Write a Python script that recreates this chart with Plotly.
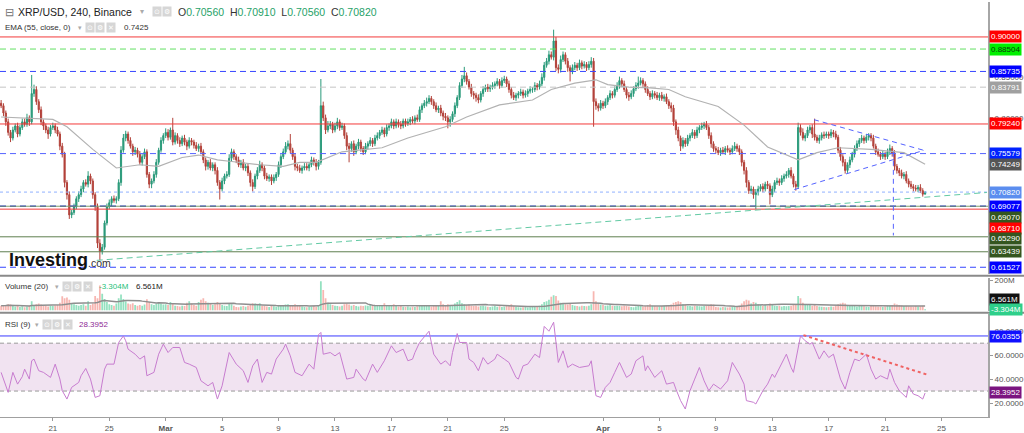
import pandas as pd
import plotly.graph_objects as go

# ---------------- data ----------------
start_time = "2022-02-17 08:00"
first_open = 0.8180

closes = [
 0.815,0.806,0.795,0.782,
 0.775,0.785,0.790,0.780,0.788,0.795,
 0.792,0.800,0.795,0.830,0.835,0.820,
 0.810,0.795,0.790,0.785,0.780,0.788,
 0.790,0.785,0.780,0.765,0.755,0.720,
 0.705,0.680,0.683,0.690,0.700,0.705,
 0.712,0.720,0.718,0.728,0.722,0.705,
 0.690,0.645,0.635,0.640,0.670,0.690,
 0.695,0.700,0.698,0.700,0.720,0.760,
 0.775,0.780,0.772,0.765,0.758,0.760,
 0.755,0.745,0.752,0.758,0.730,0.718,
 0.722,0.730,0.745,0.760,0.772,0.778,
 0.782,0.776,0.785,0.770,0.778,0.772,
 0.768,0.775,0.770,0.765,0.772,0.770,
 0.766,0.762,0.765,0.758,0.748,0.740,
 0.745,0.738,0.742,0.735,0.720,0.712,
 0.722,0.728,0.730,0.750,0.758,0.752,
 0.748,0.742,0.745,0.738,0.740,0.732,
 0.720,0.715,0.728,0.735,0.742,0.738,
 0.728,0.725,0.727,0.722,0.726,0.730,
 0.742,0.752,0.758,0.765,0.768,0.760,
 0.752,0.740,0.738,0.735,0.738,0.740,
 0.738,0.742,0.748,0.745,0.740,0.745,
 0.815,0.800,0.785,0.790,0.792,0.785,
 0.790,0.795,0.788,0.790,0.778,0.765,
 0.762,0.768,0.758,0.765,0.770,0.762,
 0.758,0.765,0.768,0.772,0.768,0.775,
 0.778,0.782,0.785,0.780,0.788,0.790,
 0.795,0.790,0.795,0.792,0.790,0.796,
 0.793,0.795,0.798,0.796,0.800,0.798,
 0.810,0.815,0.818,0.820,0.824,0.820,
 0.815,0.810,0.812,0.806,0.802,0.800,
 0.795,0.798,0.805,0.815,0.825,0.840,
 0.848,0.852,0.845,0.838,0.830,0.828,
 0.825,0.822,0.830,0.835,0.838,0.836,
 0.838,0.840,0.842,0.845,0.840,0.846,
 0.848,0.842,0.835,0.828,0.825,0.828,
 0.830,0.832,0.828,0.830,0.833,0.835,
 0.835,0.840,0.838,0.842,0.850,0.865,
 0.870,0.878,0.875,0.895,0.862,0.860,
 0.872,0.878,0.870,0.862,0.858,0.862,
 0.865,0.862,0.868,0.864,0.866,0.862,
 0.866,0.870,0.820,0.815,0.812,0.818,
 0.815,0.820,0.825,0.830,0.828,0.835,
 0.840,0.846,0.842,0.835,0.828,0.826,
 0.830,0.836,0.840,0.843,0.846,0.842,
 0.835,0.830,0.826,0.830,0.828,0.825,
 0.828,0.824,0.826,0.820,0.815,0.812,
 0.795,0.785,0.775,0.765,0.772,0.768,
 0.775,0.778,0.782,0.778,0.785,0.788,
 0.790,0.792,0.788,0.778,0.768,0.762,
 0.760,0.757,0.760,0.758,0.762,0.760,
 0.758,0.762,0.765,0.762,0.758,0.745,
 0.735,0.720,0.710,0.712,0.705,0.708,
 0.712,0.715,0.712,0.718,0.716,0.705,
 0.712,0.720,0.722,0.720,0.725,0.728,
 0.730,0.735,0.728,0.718,0.715,0.788,
 0.782,0.775,0.778,0.785,0.788,0.780,
 0.776,0.772,0.775,0.779,0.778,0.780,
 0.778,0.782,0.780,0.776,0.760,0.752,
 0.745,0.735,0.742,0.748,0.755,0.762,
 0.768,0.772,0.775,0.772,0.776,0.778,
 0.775,0.765,0.758,0.755,0.752,0.755,
 0.752,0.758,0.762,0.756,0.740,0.735,
 0.732,0.728,0.730,0.722,0.718,0.715,
 0.713,0.712,0.714,0.710,0.7056,0.7082,
]

# upper / lower wick lengths, in thousandths of a dollar
up_wick = [
 4,3,3,4, 3,4,3,4,3,4, 4,5,3,23,6,4, 3,4,3,3,4,3, 4,3,4,3,4,3,
 3,4,3,4,3,4, 4,3,4,6,3,3, 3,4,5,4,3,4, 4,3,4,3,4,5, 5,4,3,4,3,4,
 3,4,3,4,3,3, 3,4,4,3,4,3, 5,4,3,15,4,3, 4,3,4,3,4,3, 3,4,3,4,3,3,
 3,4,3,3,4,3, 4,3,4,5,4,3, 3,4,3,4,3,4, 3,4,3,4,5,3, 3,4,3,3,4,3,
 4,3,4,5,4,12, 3,4,3,4,3,4, 4,3,4,3,4,3, 33,5,4,6,4,3, 4,5,3,4,3,4,
 4,3,4,3,4,3, 3,4,3,4,3,4, 4,3,4,3,4,3, 4,3,4,3,4,3, 3,4,3,4,3,4,
 4,3,4,5,4,3, 3,4,3,4,3,4, 3,4,3,4,3,4, 5,11,4,3,4,3, 3,4,3,4,3,4,
 3,4,3,4,3,4, 4,3,4,3,4,3, 3,4,3,4,3,4, 3,4,3,4,5,4, 4,5,4,14,5,4,
 5,4,3,4,3,4, 4,3,4,3,4,3, 4,5,4,4,3,4, 3,4,3,4,3,4, 4,5,3,4,3,4,
 4,3,4,8,4,3, 3,4,3,4,3,4, 3,4,3,4,3,4, 4,3,4,3,4,3, 4,3,4,3,4,3,
 4,3,4,3,4,3, 3,4,3,4,3,4, 3,4,5,3,4,3, 3,4,3,4,3,4, 4,3,4,3,4,3,
 4,3,4,3,4,3, 4,3,4,3,4,6, 4,5,3,4,3,4, 19,3,4,3,4,3, 3,4,3,4,3,4,
 3,4,3,4,3,4, 4,3,4,3,4,3, 3,4,3,4,3,4, 3,4,5,3,4,3, 3,4,3,4,3,4,
 3,4,3,4,3,0.9,
]
dn_wick = [
 3,4,5,4, 5,3,3,4,3,3, 3,3,5,3,4,4, 4,4,5,4,6,3, 3,4,3,5,4,6,
 6,5,4,3,3,4, 3,4,3,4,4,5, 5,6,11,4,3,3, 3,4,3,4,3,4, 3,4,4,3,5,4,
 4,3,4,3,4,5, 5,3,4,3,3,4, 3,4,3,4,3,4, 4,3,4,5,3,4, 4,3,4,3,4,5,
 4,3,4,5,4,13, 3,4,3,3,4,4, 4,3,4,3,4,4, 5,6,3,4,3,4, 4,3,4,5,3,4,
 3,4,3,3,4,4, 4,5,4,3,4,3, 3,4,3,4,5,4, 3,4,5,3,4,4, 3,4,4,3,4,5,
 17,4,5,3,4,4, 4,3,4,3,4,3, 3,4,3,4,3,4, 3,4,3,4,4,3, 4,3,4,3,4,3,
 3,4,3,4,3,4, 4,3,4,4,5,4, 8,6,3,4,3,3, 3,4,4,3,4,5, 5,4,3,4,3,4,
 4,3,4,3,4,3, 3,4,4,4,3,4, 4,3,4,3,4,3, 4,3,4,3,3,4, 3,4,3,4,4,5,
 4,3,4,5,13,4, 3,4,3,4,3,4, 3,4,31,5,4,3, 4,3,4,3,4,3, 3,4,4,3,4,5,
 3,4,3,4,3,4, 4,3,4,3,4,3, 4,3,4,3,4,5, 5,6,4,6,3,4, 3,4,3,4,3,4,
 3,4,3,4,5,4, 4,3,4,3,4,3, 4,3,3,4,4,5, 5,6,4,4,5,18, 4,3,4,3,4,12,
 3,4,3,4,3,4, 3,4,3,4,5,3, 4,3,4,3,4,5, 4,3,4,3,4,3, 4,3,4,3,4,5,
 5,4,3,4,3,4, 3,4,3,4,3,4, 4,3,4,3,4,3, 4,3,4,4,5,4, 4,3,4,3,4,3,
 4,3,4,3,3,0,
]

# volume per candle, millions
volume_m = [
 30,28,35,40,
 38,30,25,28,22,26, 20,25,30,60,35,40, 45,38,30,28,25,30, 28,32,35,50,93,80,
 85,70,45,40,35,30, 35,40,30,60,35,45, 95,80,165,110,75,55, 40,35,30,45,80,105,
 75,60,45,40,47,35, 30,35,30,38,73,55, 40,35,45,50,45,38, 40,35,55,45,30,28,
 25,30,28,50,60,45, 35,30,55,70,80,60, 50,45,35,40,55,48, 35,30,28,47,40,30,
 22,20,25,28,24,30, 40,47,45,38,47,30, 28,25,22,30,26,24, 35,32,30,38,40,30,
 35,40,30,28,25,22, 20,22,25,28,24,30, 193,135,80,50,40,35, 30,28,25,30,40,45,
 38,30,35,28,25,30, 28,32,30,35,28,30, 35,30,28,47,35,30, 28,40,30,25,28,24,
 22,25,20,24,22,26, 35,30,28,32,30,25, 28,30,35,60,40,35, 40,35,30,45,55,67,
 47,40,35,38,30,28, 30,25,28,30,26,24, 22,25,28,24,26,22, 25,30,35,40,28,24,
 20,18,20,22,18,20, 22,25,24,30,40,55, 60,70,90,100,95,65, 50,45,40,38,45,35,
 30,28,25,30,28,26, 30,40,127,60,45,38, 35,30,32,38,30,28, 30,28,26,30,28,25,
 22,20,25,28,30,25, 28,35,40,30,28,25, 25,28,30,35,32,38, 50,55,60,55,40,35,
 30,28,25,30,28,26, 25,28,30,35,40,38, 22,20,18,22,20,18, 20,22,25,24,30,45,
 60,70,65,45,55,50, 40,35,30,35,30,45, 35,30,28,30,25,28, 26,28,30,35,40,95,
 80,50,40,35,38,30, 40,28,25,24,22,20, 22,25,24,30,40,45, 50,45,35,30,32,28,
 25,28,30,26,24,22, 28,30,26,25,24,22, 25,28,30,35,45,38, 35,32,28,30,26,25,
 24,28,25,26,30,6.561,
]

# EMA(55) (candle index, value)
ema_idx = [0, 22, 28, 39, 49, 59, 67, 77, 84, 92, 98, 110, 120, 127, 134, 145, 162, 173,
           189, 198, 212, 226, 234, 244, 253, 258, 267, 276, 284, 291, 305, 316, 326,
           339, 347, 356, 370, 384, 393]
ema_val = [0.801, 0.798, 0.789, 0.761, 0.738, 0.742, 0.740, 0.751, 0.754, 0.748, 0.746,
           0.742, 0.740, 0.745, 0.745, 0.758, 0.763, 0.775, 0.789, 0.801, 0.816, 0.822,
           0.835, 0.843, 0.847, 0.841, 0.838, 0.837, 0.835, 0.826, 0.814, 0.791, 0.764,
           0.748, 0.757, 0.763, 0.761, 0.757, 0.7425]

# RSI(9) (candle index, value)
rsi_idx = [0,3,5,7,9,10,12,13,14,16,18,21,23,25,26,28,30,33,34,36,38,40,42,44,45,48,50,52,53,54,
           57,59,61,62,65,67,69,71,73,76,78,80,83,85,88,90,92,94,97,100,103,105,107,109,111,113,
           115,117,120,121,123,125,128,131,133,135,136,137,140,142,144,147,150,151,154,155,158,
           160,163,166,168,171,173,175,176,178,182,183,184,187,189,191,192,194,195,198,199,201,
           203,205,207,210,211,214,216,219,220,222,224,227,229,231,233,235,237,239,241,243,246,
           250,251,253,255,257,259,261,263,266,268,270,273,274,275,278,281,283,286,287,289,291,
           293,295,297,299,301,303,306,309,311,314,316,317,320,321,324,326,328,329,332,334,336,
           337,340,342,344,345,348,350,352,354,357,359,361,363,365,368,370,372,374,377,378,380,
           382,385,386,388,390,392,393]
rsi_val = [45.6,28.9,45.6,35.8,42,48.3,40,55.3,56.7,47,45.6,41.4,52.5,40,30.3,23.3,33.1,37.2,42.8,
           48.9,40,24.7,26.1,48.3,52.5,52.5,70.6,76,72,65,60.8,56.7,59.4,42.8,45.6,60.8,69.2,62.2,
           66.4,66.4,53.9,52.5,49.7,38.6,34.4,37.2,23.3,34.4,62.2,52.5,47,37.2,51.1,56.7,37.2,45.6,
           44.2,56.7,65,69.2,59.4,45.6,42.8,52.5,48.3,77,79,60.8,62.2,59.4,62.2,40,41.4,48.3,40,
           38.6,52.5,45.6,55.3,67.8,62.2,65,55.3,56.7,62.2,70.6,80,70.6,60.8,52.5,55.3,51.1,62.2,
           78,70.6,70.6,56.7,53.9,47,58,52.5,56.7,60.8,56.7,53.9,41.4,40,51.1,52.5,60.8,58,84,80,
           87.5,53.9,63.6,49.7,52.5,49.7,51.1,55.3,26.1,24.7,33.1,37.2,45.6,53.9,41.4,44.2,55.3,
           59.4,47,51.1,41.4,47,35.8,37.2,31.7,22,15,30.3,40,49.7,38.6,30.3,35.8,31.7,38.6,53.9,
           44.2,35.8,22,20.6,19.2,30.3,35.8,44.2,41.4,53.9,60.8,49.7,45.6,76.04,72,69.2,70.6,56.7,
           63.6,58,60.8,40,31.7,45.6,56.7,55.3,60.8,48.3,40,42.8,40,48.3,37.2,30.3,24.7,34.4,27.5,
           26.1,23.3,28.3952]

# price levels drawn on the chart: value, line colour, dash, label colour, label text colour
levels = [0.90000, 0.88504, 0.85735, 0.83791, 0.79240, 0.75579, 0.70820,
          0.69077, 0.69070, 0.68710, 0.65290, 0.63439, 0.61527]
level_line = ['#f33a3a', '#62e062', '#3545ff', '#c4c4c4', '#f33a3a', '#5563ff', '#8fb0ff',
              '#1a2ae0', '#7d9a6c', '#f33a3a', '#5f7f4f', '#5f7f4f', '#3545ff']
level_dash = ['solid', '6px,4px', '6px,4px', '6px,4px', 'solid', '6px,4px', 'dot',
              '6px,4px', 'solid', 'solid', 'solid', 'solid', '6px,4px']
level_label_bg = ['#ff0000', '#00f000', '#0000ff', '#a0a0a0', '#ff0000', '#0022ff', '#5b8def',
                  '#0000ff', '#34561f', '#ff0000', '#34561f', '#34561f', '#0000ff']
level_label_fc = ['white', '#0a3a0a', 'white', 'white', 'white', 'white', 'white',
                  'white', 'white', 'white', 'white', 'white', 'white']
level_label_shift = [0, 0, 0, 0, 0, 0, 0, 0, -11.5, -19.5, -2, 0, 0]
ema_label_value = 0.74249

# analyst drawings
support_t = ["2022-02-24 02:40", "2022-04-28 05:00"]
support_p = [0.6238, 0.7077]
tri_up_t = ["2022-04-15 23:00", "2022-04-23 18:00"]
tri_up_p = [0.7977, 0.7598]
tri_lo_t = ["2022-04-14 13:30", "2022-04-23 18:00"]
tri_lo_p = [0.7113, 0.7598]
vline_t = ["2022-04-21 14:00", "2022-04-21 14:00"]
vline_p = [0.758, 0.6546]
rsi_tl_t = ["2022-04-15 05:00", "2022-04-24 02:00"]
rsi_tl_v = [76.7, 43.3]
rsi_level = 76.0355

# axes
x_range = ['2022-02-17 06:06', '2022-04-28 07:00']
price_ticks = [0.80, 0.85]
rsi_ticks = [20, 40, 60, 80]
tick_dates = ["2022-02-21", "2022-02-25", "2022-03-01", "2022-03-05", "2022-03-09", "2022-03-13",
              "2022-03-17", "2022-03-21", "2022-03-25", "2022-04-01", "2022-04-05", "2022-04-09",
              "2022-04-13", "2022-04-17", "2022-04-21", "2022-04-25"]
tick_text = ["21", "25", "<b>Mar</b>", "5", "9", "13", "17", "21", "25", "<b>Apr</b>",
             "5", "9", "13", "17", "21", "25"]

# ---------------- build ----------------
n = len(closes)
t0 = pd.Timestamp(start_time)
step = pd.Timedelta(hours=4)
times = [t0 + i * step for i in range(n)]
opens = [first_open] + closes[:-1]
highs = [max(o, c) + u / 1000 for o, c, u in zip(opens, closes, up_wick)]
lows = [min(o, c) - d / 1000 for o, c, d in zip(opens, closes, dn_wick)]
volume = [v * 1e6 for v in volume_m]
vol_ma = pd.Series(volume).rolling(20, min_periods=1).mean()
vol_colors = ['rgba(60,200,140,0.55)' if c >= o else 'rgba(240,110,100,0.5)'
              for o, c in zip(opens, closes)]
ema_t = [t0 + i * step for i in ema_idx]
rsi_t = [t0 + i * step for i in rsi_idx]
x_span = pd.to_datetime(x_range)

W = 991.0
TOP, BOT = 2.0, 418.0
H = BOT - TOP


def px(x):
    return x / W


def py(y):
    return (BOT - y) / H


fig = go.Figure()


def line_trace(xs, ys, yaxis, color, width=1, dash='solid'):
    fig.add_trace(go.Scatter(x=xs, y=ys, mode='lines', xaxis='x', yaxis=yaxis,
                             line=dict(color=color, width=width, dash=dash),
                             hoverinfo='skip', showlegend=False))


# horizontal price levels (under the candles)
for v, c, d in zip(levels, level_line, level_dash):
    line_trace(x_span, [v, v], 'y', c, 1.4 if c == '#1a2ae0' else 1, d)

fig.add_trace(go.Candlestick(
    x=times, open=opens, high=highs, low=lows, close=closes,
    xaxis='x', yaxis='y',
    increasing=dict(line=dict(color='#2a9a7a', width=1), fillcolor='#2a9a7a'),
    decreasing=dict(line=dict(color='#b3423a', width=1), fillcolor='#b3423a'),
    whiskerwidth=0, hoverinfo='skip', showlegend=False))

line_trace(ema_t, ema_val, 'y', '#b2b2b2', 1.2)
line_trace(pd.to_datetime(support_t), support_p, 'y', '#62c9a3', 1, '6px,4px')
line_trace(pd.to_datetime(tri_up_t), tri_up_p, 'y', '#5563ff', 1, '5px,4px')
line_trace(pd.to_datetime(tri_lo_t), tri_lo_p, 'y', '#5563ff', 1, '5px,4px')
line_trace(pd.to_datetime(vline_t), vline_p, 'y', '#5563ff', 1, '5px,4px')

fig.add_trace(go.Bar(x=times, y=volume, xaxis='x', yaxis='y2', marker=dict(color=vol_colors, line=dict(width=0)),
                     hoverinfo='skip', showlegend=False))
line_trace(times, vol_ma, 'y2', '#8e8e8e', 1.5)

# RSI pane
line_trace(x_span, [70, 70], 'y3', '#9a9a9a', 1, '4px,3px')
line_trace(x_span, [30, 30], 'y3', '#9a9a9a', 1, '4px,3px')
line_trace(x_span, [rsi_level, rsi_level], 'y3', '#3a3aff', 1)
line_trace(rsi_t, rsi_val, 'y3', '#c77ccf', 1)
line_trace(pd.to_datetime(rsi_tl_t), rsi_tl_v, 'y3', '#f06262', 2, 'dot')

shapes = []
shapes.append(dict(type='rect', xref='paper', yref='y3', x0=0, x1=1, y0=30, y1=70,
                   fillcolor='#f1e3f1', line=dict(width=0), layer='below'))
# pane separators
for ysep in (276.5, 313.5):
    shapes.append(dict(type='line', xref='paper', yref='paper', x0=0, x1=1.04, y0=py(ysep), y1=py(ysep),
                       line=dict(color='#8a8a8a', width=2)))

ann = []


def label(value, yref, text, bg, fc='white', yshift=0):
    ann.append(dict(xref='paper', yref=yref, x=1, y=value, xanchor='left', yanchor='middle',
                    xshift=1, yshift=yshift, text=text, showarrow=False, bgcolor=bg,
                    borderpad=1, font=dict(size=8, color=fc)))


for v, bg, fc, sh in zip(levels, level_label_bg, level_label_fc, level_label_shift):
    label(v, 'y', f"{v:.5f}", bg, fc, sh)
label(ema_label_value, 'y', f"{ema_label_value:.5f}", '#555555')
label(73e6, 'y2', "6.561M", '#111111')
label(6e6, 'y2', "-3.304M", '#2ecf8a')
label(rsi_level, 'y3', f"{rsi_level:.4f}", '#1010ff', yshift=-1)
label(rsi_val[-1], 'y3', f"{rsi_val[-1]:.4f}", '#7b1580')


def txt(x, y, text, size=8, color='#333', **kw):
    ann.append(dict(xref='paper', yref='paper', x=px(x), y=py(y), xanchor='left', yanchor='middle',
                    text=text, showarrow=False, font=dict(size=size, color=color), **kw))


def icons(x0, y, k, w=9):
    glyphs = ['⊙', '⚙', '✕']
    for i in range(k):
        txt(x0 + i * (w + 1.5), y, glyphs[i], size=6.5, color='white', bgcolor='#d6d6d6', borderpad=1)


g = '#26a269'
txt(3, 12, '⊟', size=11, color='#777')
txt(16, 12, 'XRP/USD, 240, Binance', size=10.5, color='#222')
txt(138, 12, '▾', size=8, color='#aaa')
icons(152, 12, 2)
txt(177, 12, f"O<span style='color:{g}'>0.70560</span>&nbsp;&nbsp;H<span style='color:{g}'>0.70910</span>"
             f"&nbsp;&nbsp;L<span style='color:{g}'>0.70560</span>&nbsp;&nbsp;C<span style='color:{g}'>0.70820</span>",
    size=10.5, color='#333')
txt(3, 28, 'EMA (55, close, 0)', size=8, color='#333')
txt(76, 28, '▾', size=7, color='#aaa')
icons(85, 28, 3)
txt(122, 28, '0.7425', size=8, color='#333')

txt(3, 287, 'Volume (20)', size=8, color='#333')
txt(53, 287, '▾', size=7, color='#aaa')
icons(62, 287, 3)
txt(97, 287, '-3.304M', size=8, color='#1fbf7a')
txt(134, 287, '6.561M', size=8, color='#222')

txt(3, 325, 'RSI (9)', size=8, color='#333')
txt(33, 325, '▾', size=7, color='#aaa')
icons(42, 325, 3)
txt(77, 325, '28.3952', size=8, color='#8e2a96')

txt(7, 261, '<b>Investing</b>', size=18, color='#111')
txt(86, 264, '.com', size=10.5, color='#333')

axis_common = dict(showgrid=False, zeroline=False, showline=True, linecolor='#a6a6a6', linewidth=2,
                   side='right', ticks='outside', ticklen=3, tickcolor='#999',
                   tickfont=dict(size=8, color='#555'), anchor='x', fixedrange=True)

fig.update_layout(
    width=1024, height=433,
    margin=dict(l=0, r=33, t=2, b=15),
    paper_bgcolor='white', plot_bgcolor='white',
    font=dict(family='Liberation Sans, Arial, sans-serif'),
    showlegend=False,
    bargap=0.25,
    xaxis=dict(type='date', range=x_range, anchor='y3',
               showgrid=False, zeroline=False, showline=True, linecolor='#a0a0a0', linewidth=1,
               ticks='outside', ticklen=3, tickcolor='#999', tickvals=tick_dates, ticktext=tick_text,
               tickfont=dict(size=8, color='#555'), rangeslider=dict(visible=False)),
    yaxis=dict(domain=[py(275), 1], range=[0.6065, 0.9432],
               tickvals=price_ticks, ticktext=[f"{v:.5f}" for v in price_ticks], **axis_common),
    yaxis2=dict(domain=[py(312), py(279)], range=[-6.7e6, 213e6], tickvals=[200e6], ticktext=['200M'],
                **axis_common),
    yaxis3=dict(domain=[0, py(315)], range=[8.33, 94.17], tickvals=rsi_ticks,
                ticktext=[f"{v:.4f}" for v in rsi_ticks], **axis_common),
    shapes=shapes,
    annotations=ann,
)

fig.write_html("out.html")
